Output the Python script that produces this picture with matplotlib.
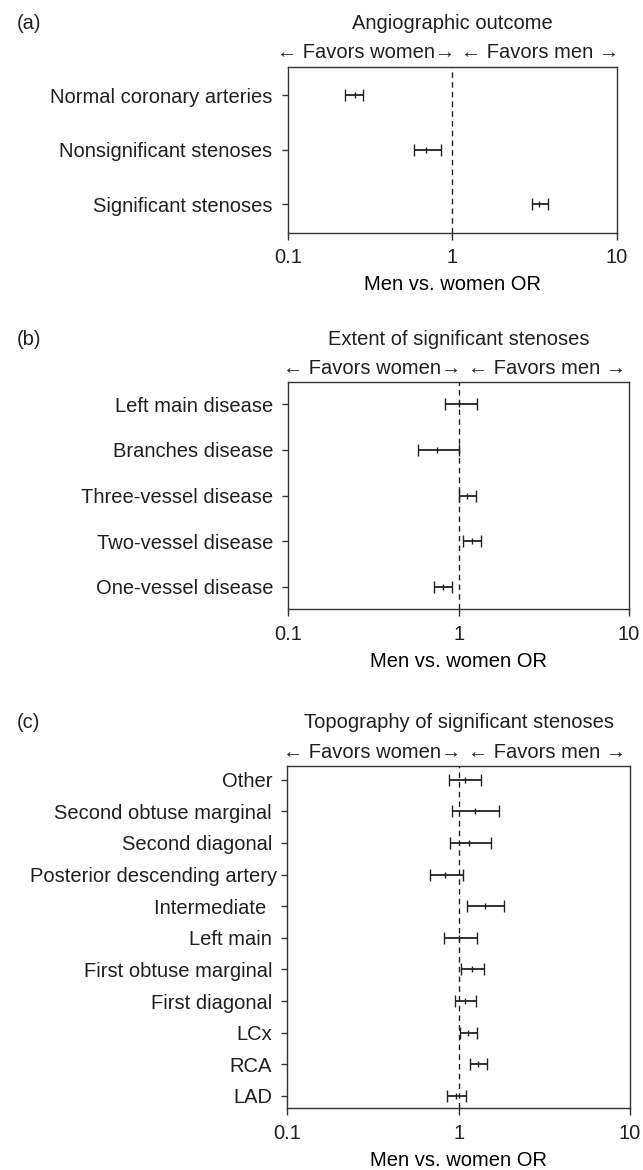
import numpy as np
import matplotlib
matplotlib.use("Agg")
import matplotlib.pyplot as plt
from matplotlib.transforms import ScaledTranslation

plt.rcParams['font.family'] = ['Liberation Sans', 'DejaVu Sans']
plt.rcParams['font.size'] = 14.5
plt.rcParams['text.color'] = '#231f20'
plt.rcParams['axes.edgecolor'] = '#333333'
plt.rcParams['xtick.color'] = '#333333'
plt.rcParams['ytick.color'] = '#333333'
plt.rcParams['xtick.labelcolor'] = '#231f20'
plt.rcParams['ytick.labelcolor'] = '#231f20'

# -----------------------------
# data (odds ratio, lower CI, upper CI), top row first
# -----------------------------
a_labels = ["Normal coronary arteries", "Nonsignificant stenoses", "Significant stenoses"]
a_or = [0.255, 0.695, 3.37]
a_lo = [0.224, 0.587, 3.04]
a_hi = [0.288, 0.852, 3.79]

b_labels = ["Left main disease", "Branches disease", "Three-vessel disease",
            "Two-vessel disease", "One-vessel disease"]
b_or = [1.01, 0.745, 1.12, 1.19, 0.81]
b_lo = [0.83, 0.576, 1.00, 1.065, 0.72]
b_hi = [1.29, 1.00, 1.27, 1.35, 0.918]

c_labels = ["Other", "Second obtuse marginal", "Second diagonal",
            "Posterior descending artery", "Intermediate ", "Left main",
            "First obtuse marginal", "First diagonal", "LCx", "RCA", "LAD"]
c_or = [1.084, 1.24, 1.154, 0.836, 1.42, 1.01, 1.196, 1.084, 1.14, 1.296, 0.97]
c_lo = [0.883, 0.914, 0.89, 0.684, 1.12, 0.826, 1.036, 0.957, 1.018, 1.17, 0.86]
c_hi = [1.356, 1.73, 1.54, 1.065, 1.85, 1.28, 1.405, 1.256, 1.285, 1.46, 1.108]

W, H = 643, 1170
fig = plt.figure(figsize=(W / 100, H / 100), dpi=100)


def px_axes(left, right, top, bottom):
    return fig.add_axes([left / W, 1 - bottom / H, (right - left) / W, (bottom - top) / H])


def forest(ax, labels, orv, lo, hi, ylim, title, tag):
    n = len(labels)
    y = np.arange(n, 0, -1)
    orv, lo, hi = np.array(orv), np.array(lo), np.array(hi)
    ax.axvline(1, color='#222222', lw=1.0, ls=(0, (4, 3)), zorder=1)
    ax.errorbar(orv, y, xerr=[orv - lo, hi - orv], fmt='|', ms=4, mew=1.0,
                color='#222222', ecolor='#222222', elinewidth=1.3,
                capsize=4, capthick=1.3, zorder=3)
    ax.set_xscale('log')
    ax.set_xlim(0.1, 10)
    ax.set_ylim(*ylim)
    ax.set_xticks([0.1, 1, 10])
    ax.set_xticklabels(["0.1", "1", "10"])
    ax.minorticks_off()
    ax.set_yticks(y)
    ax.set_yticklabels(labels)
    ax.tick_params(axis='x', length=5, width=1.0, pad=6)
    ax.tick_params(axis='y', length=4, width=1.0, pad=7)
    for s in ax.spines.values():
        s.set_linewidth(1.0)
    ax.set_xlabel("Men vs. women OR", labelpad=6)
    # favors header above the box, split at OR = 1
    ax.annotate("\u2190 Favors women\u2192", xy=(1, 1), xycoords=('data', 'axes fraction'),
                xytext=(2, 10), textcoords='offset points', ha='right', va='center')
    ax.annotate("\u2190 Favors men \u2192", xy=(1, 1), xycoords=('data', 'axes fraction'),
                xytext=(6.5, 10), textcoords='offset points', ha='left', va='center')
    ax.annotate(title, xy=(0.5, 1), xycoords='axes fraction',
                xytext=(0, 31), textcoords='offset points', ha='center', va='center')
    bb = ax.get_position()
    fig.text(17 / W, bb.y1 + 31 / 72 / (H / 100), tag, ha='left', va='center')


ax_a = px_axes(287.7, 617.0, 66.7, 232.5)
forest(ax_a, a_labels, a_or, a_lo, a_hi, (0.48, 3.52), "Angiographic outcome", "(a)")

ax_b = px_axes(288.3, 629.0, 382.3, 609.3)
forest(ax_b, b_labels, b_or, b_lo, b_hi, (0.51, 5.48), "Extent of significant stenoses", "(b)")

ax_c = px_axes(287.3, 630.0, 766.0, 1108.3)
forest(ax_c, c_labels, c_or, c_lo, c_hi, (0.61, 11.43), "Topography of significant stenoses", "(c)")

# the longest label sits tight against its tick in the original
for lab in ax_c.get_yticklabels():
    if lab.get_text().startswith("Posterior"):
        lab.set_transform(lab.get_transform() + ScaledTranslation(4 / 72, 0, fig.dpi_scale_trans))

fig.savefig("out.png", dpi=100)
